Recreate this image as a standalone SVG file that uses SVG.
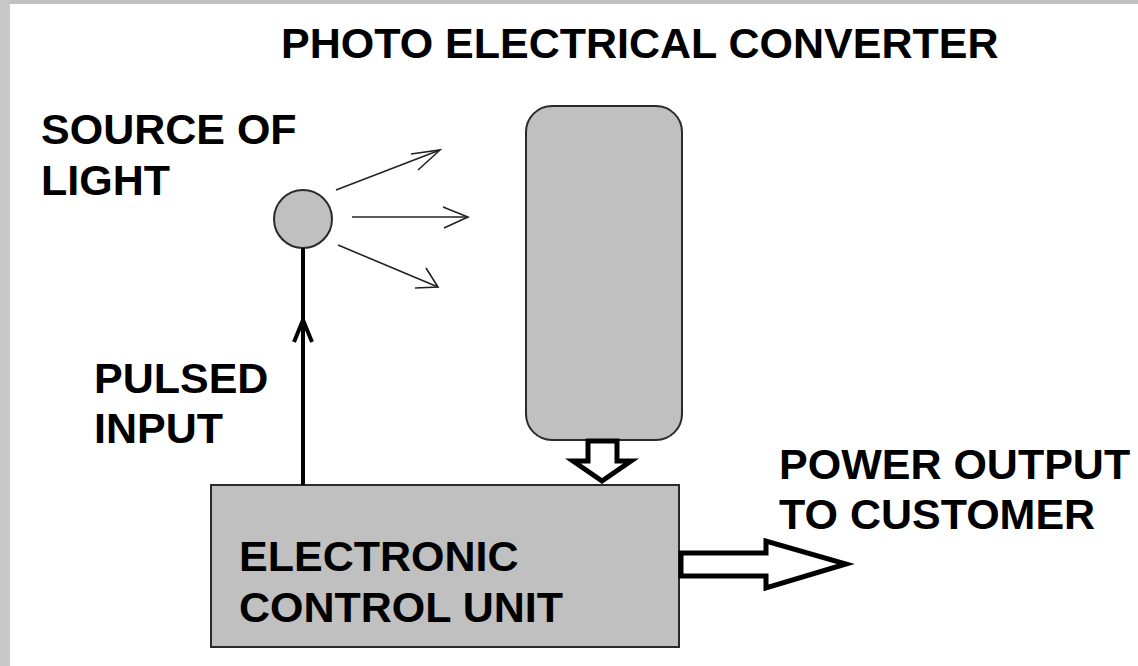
<svg xmlns="http://www.w3.org/2000/svg" width="1138" height="666" viewBox="0 0 1138 666">
<defs>
<style>
.t{font-family:"Liberation Sans",Arial,sans-serif;font-weight:bold;font-size:43px;fill:#000}
.box{fill:#c0c0c0;stroke:#2a2a2a;stroke-width:2}
.ray{fill:none;stroke:#222;stroke-width:1.6}
.hollow{fill:#fff;stroke:#000;stroke-width:5;stroke-linejoin:miter}
</style>
</defs>
<rect x="0" y="0" width="1138" height="666" fill="#fff"/>
<rect x="0" y="0" width="1138" height="4" fill="#c0c0c0"/>
<rect x="0" y="0" width="10" height="666" fill="#c8c8c8"/>
<text class="t" x="281" y="58">PHOTO ELECTRICAL CONVERTER</text>
<g id="source">
<circle class="box" cx="303" cy="219" r="29" stroke-width="1.6"/>
<text class="t" x="41" y="144">SOURCE OF</text>
<text class="t" x="41" y="195">LIGHT</text>
</g>
<g id="converter">
<rect class="box" x="526" y="106" width="156" height="334" rx="26" ry="26"/>
</g>
<g id="ecu">
<rect class="box" x="211" y="485" width="468" height="162"/>
<text class="t" x="239" y="571">ELECTRONIC</text>
<text class="t" x="239" y="622">CONTROL UNIT</text>
</g>
<g id="pulsed-label">
<text class="t" x="94" y="393">PULSED</text>
<text class="t" x="94" y="443">INPUT</text>
</g>
<g id="output-label">
<text class="t" x="779" y="479">POWER OUTPUT</text>
<text class="t" x="779" y="529">TO CUSTOMER</text>
</g>
<g id="connectors">
<line x1="303" y1="248" x2="303" y2="485" stroke="#000" stroke-width="4"/>
<polyline points="294,342 303,320 312,342" fill="none" stroke="#000" stroke-width="4"/>
<line class="ray" x1="336" y1="190" x2="440" y2="150"/>
<polyline class="ray" points="411,154 440,150 418,170"/>
<line class="ray" x1="352" y1="217" x2="468" y2="217"/>
<polyline class="ray" points="443,207 468,217 444,228"/>
<line class="ray" x1="338" y1="245" x2="438" y2="287"/>
<polyline class="ray" points="426,268 438,287 415,288"/>
<polygon class="hollow" points="588,441 617,441 617,461 631,461 602,481 573,461 588,461"/>
<polygon class="hollow" points="681,553 766,553 766,541 846,564 766,588 766,576 681,576"/>
</g>
</svg>
